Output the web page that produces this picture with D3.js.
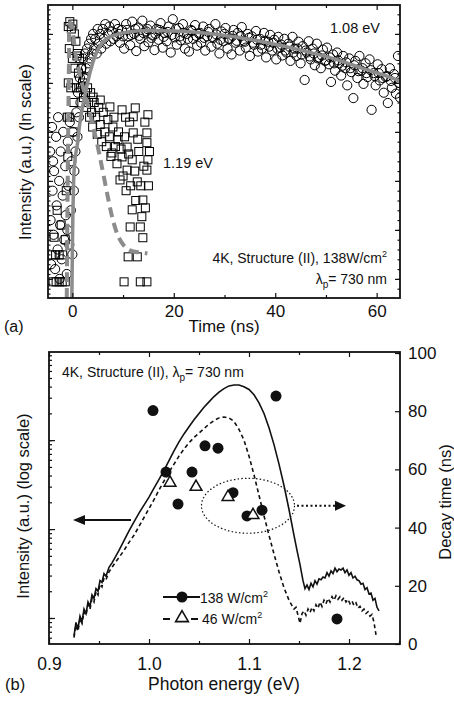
<!DOCTYPE html>
<html>
<head>
<meta charset="utf-8">
<script src="https://cdn.jsdelivr.net/npm/d3@7/dist/d3.min.js"></script>
<style>
  body { margin: 0; background: #fff; }
  text { font-family: "Liberation Sans", Arial, sans-serif; fill: #111; }
</style>
</head>
<body>
<svg id="fig" width="454" height="702"></svg>
<script>
// ---- panel (a): time-resolved PL, ln(intensity) vs time (ns)
const timeTicks = [0, 20, 40, 60];
const timeMinor = [10, 30, 50];

// 1.08 eV data (open circles)  [t, ln I]
const pl108 = [
  [-4.4,2.6],[-4.3,1.2],[-4.2,0.3],[-4.0,3.1],[-3.9,1.8],[-3.7,0.9],[-3.6,2.2],[-3.4,0.2],[-3.2,2.9],[-3.1,1.5],
  [-2.9,0.6],[-2.8,3.3],[-2.6,2.0],[-2.4,1.1],[-2.3,2.6],[-2.1,0.4],[-1.9,1.7],[-1.8,3.0],[-1.6,0.8],[-1.4,2.3],
  [-1.3,1.3],[-1.1,0.1],[-0.9,2.8],[-0.8,1.9],[-0.6,0.7],[-0.5,3.2],[-0.3,1.4],[-0.2,2.4],[0.0,0.5],[0.1,3.0],
  [0.3,1.8],[0.4,2.2],[-3.8,2.4],[-2.5,0.0],[-1.0,1.0],
  [0.6,2.6],[0.8,3.4],[1.0,2.9],[1.1,3.8],[1.3,3.3],[1.5,4.1],[1.6,3.6],[1.8,4.3],[2.0,3.9],[2.1,4.5],
  [2.3,4.1],[2.5,4.6],[2.7,4.3],[2.9,4.7],[3.1,4.4],[3.3,4.8],[3.5,4.5],[3.7,4.9],[3.9,4.6],[4.1,5.0],
  [4.3,4.7],[4.5,4.9],[4.8,4.6],[5.0,5.1],[5.2,4.8],[5.5,5.0],[5.7,4.7],[6.0,5.1],[6.2,4.9],[6.5,5.2],
  [6.7,4.8],[7.0,5.0],[7.3,5.15],[7.5,4.85],[7.8,5.05],[8.1,4.9],[8.4,5.2],[8.7,4.95],
  [9.0,5.1],[9.4,4.82],[9.8,5.08],[10.2,4.7],[10.6,5.2],[11.0,4.95],[11.4,4.77],[11.8,5.25],[12.2,5.0],[12.6,4.65],
  [13.0,5.13],[13.4,4.9],[13.8,5.27],[14.2,4.75],[14.6,5.05],[15.0,4.83],[15.4,5.17],[15.8,4.97],[16.2,4.67],[16.6,5.1],
  [17.0,4.88],[17.4,5.22],[17.8,4.72],[18.2,5.02],[18.6,4.85],[19.0,5.15],[19.4,4.62],[19.8,5.3],[20.2,4.93],[20.6,4.78],
  [21.0,5.12],[21.4,4.87],[21.8,5.2],[22.2,4.7],[22.6,5.0],[23.0,4.64],[23.4,5.08],[23.8,4.9],[24.2,5.18],[24.6,4.76],
  [25.0,5.0],[25.4,4.82],[25.8,5.15],[26.2,4.66],[26.6,4.95],[27.0,5.1],[27.4,4.74],[27.8,4.92],[28.2,5.2],[28.6,4.8],
  [29.0,4.6],[29.4,5.05],[29.8,4.85],[30.2,5.12],[30.6,4.7],[31.0,4.9],[31.4,4.58],[31.8,5.08],[32.2,4.82],[32.6,5.02],
  [33.0,4.66],[33.4,5.14],[33.8,4.86],[34.2,4.72],[34.6,5.0],[35.0,4.55],[35.4,4.95],[35.8,4.78],[36.2,5.06],[36.6,4.64],
  [37.0,4.9],[37.4,4.7],[37.8,5.02],[38.2,4.52],[38.6,4.84],[39.0,4.98],[39.4,4.66],[39.8,4.88],[40.2,4.48],[40.6,4.94],
  [41.0,4.72],[41.4,4.56],[41.8,4.9],[42.2,4.62],[42.6,4.8],[43.0,4.45],[43.4,4.94],[43.8,4.7],[44.2,4.55],[44.6,4.84],
  [45.0,4.4],[45.4,4.75],[45.8,4.06],[46.2,4.62],[46.6,4.85],[47.0,4.48],[47.4,4.7],[47.8,4.36],[48.2,4.8],[48.6,4.52],
  [49.0,4.3],[49.4,4.68],[49.8,4.45],[50.2,4.72],[50.6,4.38],[51.0,4.02],[51.4,4.58],[51.8,4.25],[52.2,4.62],[52.6,4.4],
  [53.0,4.15],[53.4,4.55],[53.8,4.3],[54.2,3.95],[54.6,4.5],[55.0,4.22],[55.4,3.69],[55.8,4.45],[56.2,4.1],[56.6,4.55],
  [57.0,4.25],[57.4,3.98],[57.8,4.4],[58.2,4.12],[58.6,4.48],[59.0,3.45],[59.4,4.2],[59.8,3.95],[60.2,4.38],[60.6,4.05],
  [61.0,4.28],[61.4,3.8],[61.8,4.12],[62.2,3.59],[62.6,4.3],[63.0,3.9],[63.4,4.18],[63.8,3.78],[64.2,4.55],[64.4,4.0],[64.6,3.7],
  [9.2,5.0],[10.0,4.95],[10.8,5.08],[11.6,4.98],[12.4,5.1],[13.2,4.96],[14.0,5.02],[14.8,5.1],[15.6,4.92],[16.4,5.0],
  [17.2,5.08],[18.0,4.94],[18.8,5.04],[19.6,4.98],[20.4,5.1],[21.2,4.95],[22.0,5.02],[22.8,4.9],[23.6,5.06],[24.4,4.96],
  [25.2,5.02],[26.0,4.92],[26.8,5.04],[27.6,4.94],[28.4,4.99],[29.2,4.88],[30.0,5.0],[30.8,4.9],[31.6,4.96],[32.4,4.86],
  [33.2,4.95],[34.0,4.84],[34.8,4.92],[35.6,4.82],[36.4,4.88],[37.2,4.78],[38.0,4.86],[38.8,4.74],[39.6,4.82],[40.4,4.7],
  [41.2,4.78],[42.0,4.66],[42.8,4.74],[43.6,4.62],[44.4,4.7],[45.2,4.58],[46.0,4.66],[46.8,4.54],[47.6,4.6],[48.4,4.5],
  [49.2,4.56],[50.0,4.46],[50.8,4.52],[51.6,4.4],[52.4,4.46],[53.2,4.35],[54.0,4.42],[54.8,4.3],[55.6,4.36],[56.4,4.24],
  [57.2,4.3],[58.0,4.2],[58.8,4.26],[59.6,4.14],[60.4,4.2],[61.2,4.1],[62.0,4.14],[62.8,4.04],[63.6,4.1],[64.4,4.0]
];

// 1.19 eV data (open squares)  [t, ln I]
const pl119 = [
  [-4.0,0.49],[-3.3,0.49],[-2.6,0.49],[-1.9,0.49],[-3.8,-0.06],[-3.2,-0.06],[-2.6,-0.06],[-2.0,-0.06],[-1.4,-0.06],
  [-3.0,1.4],[-1.4,0.8],[-3.6,0.85],[-2.2,1.1],[-1.2,1.8],[-0.9,2.5],[-1.0,3.3],[-0.8,4.0],
  [-0.8,5.15],[-0.5,5.25],[-0.2,5.1],[0.1,5.2],[0.4,5.0],[0.7,4.85],[-0.6,4.7],[0.0,4.5],[0.5,4.3],[0.9,4.55],
  [-0.3,3.9],[0.3,3.6],[0.8,3.9],[-0.6,3.3],[0.2,3.0],
  [1.0,4.6],[1.2,4.2],[1.4,4.5],[1.6,3.9],[1.8,4.3],[2.0,4.0],[2.2,3.7],[2.4,4.1],[2.6,3.8],[2.8,3.5],
  [3.0,3.9],[3.2,3.6],[3.4,3.3],[3.6,3.8],[3.8,3.4],[4.0,3.1],[4.3,3.6],[4.6,3.3],[4.9,2.95],[5.2,3.5],
  [5.5,3.15],[5.8,2.8],[6.1,3.4],[6.4,3.0],[6.7,2.7],[7.0,3.25],[7.3,2.9],[7.6,2.5],[8.2,3.3],[8.5,2.7],
  [8.8,2.35],[9.1,3.0],[9.6,2.65],[10.0,2.1],[10.3,2.9],[10.6,1.8],[11.1,2.55],[11.5,1.9],[12.3,2.2],[12.5,1.6],
  [13.1,2.6],[13.5,1.9],[14.1,2.3],[14.4,1.45],[15.0,1.9],[15.2,2.6],[14.9,3.35],[12.9,2.85],[11.3,3.2],[10.5,3.3],
  [4.1,3.71],[5.5,3.65],[7.4,3.51],[9.8,3.45],[12.4,3.49],[14.3,3.2],[14.7,2.98],[14.7,2.78],[14.9,2.43],[14.7,2.22],
  [12.0,3.31],[12.0,2.98],[10.8,2.69],[11.8,2.43],[10.8,2.22],[12.8,1.98],[13.9,1.61],[11.8,1.41],[13.7,1.27],[11.4,1.06],
  [13.4,1.06],[13.9,0.84],[11.0,0.45],[12.8,0.45],[10.2,-0.06],[13.4,-0.06],[14.7,-0.06],[8.0,3.1],[9.0,2.84],[7.8,2.57],
  [9.8,2.49],[9.4,2.02]
];

// fits (grey)
const fit108 = [
  [-0.1,-0.39],[0.0,0.5],[0.1,1.3],[0.25,2.0],[0.5,2.4],[1.0,2.75],[1.5,3.2],[2.0,3.5],[2.5,3.75],[3.0,4.0],
  [4.0,4.4],[5.0,4.67],[6.5,4.88],[8.5,4.98],[11,5.04],[15,5.07],[20,5.06],[26,5.02],[32,4.94],[38,4.83],
  [45,4.67],[52,4.48],[58,4.27],[62,4.14],[64.6,4.04]
];
const fit119 = [
  [-1.1,-0.39],[-0.95,1.6],[-0.8,3.2],[-0.65,4.5],[-0.45,5.22],[-0.2,5.2],[0.2,4.95],[0.6,4.6],[1.2,4.3],[2.0,3.95],
  [2.9,3.6],[3.9,3.2],[4.8,2.8],[5.9,2.25],[7.1,1.62],[8.0,1.2],[9.0,0.88],[10.0,0.7],[11.0,0.6],[12.0,0.56],
  [13.4,0.54],[14.8,0.52]
];

// ---- panel (b): PL spectra (log10 intensity) and decay times
const energyTicks = [0.9, 1.0, 1.1, 1.2];
const energyMinor = [0.95, 1.05, 1.15, 1.25];
const decayTicks = [0, 20, 40, 60, 80, 100];

// spectrum at 138 W/cm2  [E, log10 I]
const spec138 = [
  [0.925,-0.2],[0.927,-0.05],[0.929,-0.12],[0.931,0.02],[0.933,-0.04],[0.935,0.1],[0.937,0.05],[0.939,0.18],[0.941,0.13],[0.943,0.26],
  [0.945,0.22],[0.947,0.33],[0.949,0.3],[0.951,0.42],[0.953,0.4],[0.955,0.5],[0.957,0.47],[0.960,0.57],[0.963,0.62],[0.966,0.68],
  [0.970,0.76],[0.975,0.87],[0.980,0.98],[0.985,1.08],[0.990,1.18],[0.995,1.27],[1.000,1.36],[1.005,1.46],[1.010,1.56],[1.015,1.66],
  [1.020,1.77],[1.025,1.88],[1.030,1.98],[1.035,2.07],[1.040,2.15],[1.045,2.23],[1.050,2.30],[1.055,2.37],[1.060,2.43],[1.065,2.49],
  [1.070,2.54],[1.075,2.58],[1.080,2.61],[1.085,2.62],[1.090,2.62],[1.095,2.60],[1.100,2.57],[1.105,2.51],[1.110,2.42],[1.115,2.30],
  [1.120,2.14],[1.125,1.95],[1.130,1.73],[1.135,1.49],[1.140,1.22],[1.145,0.93],[1.148,0.76],[1.151,0.6],[1.154,0.42],[1.156,0.33],
  [1.158,0.37],[1.160,0.32],[1.162,0.39],[1.164,0.35],[1.166,0.42],[1.168,0.38],[1.170,0.44],[1.172,0.43],[1.174,0.46],[1.176,0.45],
  [1.178,0.51],[1.180,0.47],[1.182,0.53],[1.184,0.5],[1.186,0.56],[1.188,0.52],[1.190,0.55],[1.192,0.54],[1.194,0.56],[1.196,0.51],
  [1.198,0.54],[1.200,0.48],[1.202,0.51],[1.204,0.45],[1.206,0.47],[1.208,0.43],[1.210,0.42],[1.212,0.38],[1.214,0.39],[1.216,0.32],
  [1.218,0.34],[1.220,0.27],[1.222,0.28],[1.224,0.2],[1.226,0.22],[1.228,0.12],[1.230,0.08]
];
// spectrum at 46 W/cm2
const spec46 = [
  [0.925,-0.22],[0.927,-0.08],[0.929,-0.15],[0.931,0.0],[0.933,-0.06],[0.935,0.07],[0.937,0.03],[0.939,0.15],[0.941,0.1],[0.943,0.22],
  [0.945,0.18],[0.947,0.3],[0.949,0.26],[0.951,0.38],[0.953,0.35],[0.955,0.45],[0.957,0.43],[0.960,0.52],[0.963,0.57],[0.966,0.62],
  [0.970,0.68],[0.975,0.76],[0.980,0.85],[0.985,0.93],[0.990,1.03],[0.995,1.13],[1.000,1.23],[1.005,1.33],[1.010,1.44],[1.015,1.54],
  [1.020,1.64],[1.025,1.73],[1.030,1.82],[1.035,1.90],[1.040,1.97],[1.045,2.03],[1.050,2.08],[1.055,2.13],[1.060,2.18],[1.065,2.22],
  [1.070,2.25],[1.075,2.26],[1.080,2.25],[1.085,2.21],[1.090,2.12],[1.095,2.0],[1.100,1.82],[1.105,1.61],[1.110,1.38],[1.115,1.15],
  [1.120,0.93],[1.125,0.72],[1.130,0.52],[1.135,0.34],[1.140,0.2],[1.143,0.14],[1.145,0.1],[1.147,0.12],[1.149,0.03],[1.151,-0.06],
  [1.153,0.05],[1.155,0.08],[1.157,0.03],[1.159,0.1],[1.161,0.06],[1.163,0.12],[1.165,0.08],[1.167,0.15],[1.169,0.11],[1.171,0.18],
  [1.173,0.13],[1.175,0.2],[1.177,0.16],[1.179,0.22],[1.181,0.18],[1.183,0.24],[1.185,0.2],[1.187,0.25],[1.189,0.21],[1.191,0.24],
  [1.193,0.2],[1.195,0.23],[1.197,0.18],[1.199,0.21],[1.201,0.16],[1.203,0.19],[1.205,0.14],[1.207,0.17],[1.209,0.11],[1.211,0.13],
  [1.213,0.08],[1.215,0.1],[1.217,0.05],[1.219,0.07],[1.221,0.02],[1.223,0.04],[1.225,-0.05],[1.227,-0.19]
];

// decay times (ns)
const decay138 = [
  [1.004,80.2],[1.017,59.1],[1.029,48.1],[1.043,59.1],[1.056,68.1],[1.069,67.3],
  [1.084,52.0],[1.098,44.0],[1.113,46.0],[1.127,85.2],[1.188,8.6]
];
const decay46 = [[1.021,55.4],[1.047,54.0],[1.079,50.5],[1.104,44.3]];

function body() {
  const svg = d3.select('#fig');

  // ================= panel (a)
  const xA = d3.scaleLinear().domain([-4.8, 64.6]).range([48, 400]);
  const yA = d3.scaleLinear().domain([-0.39, 5.59]).range([298, 5]);

  svg.append('defs').call(sel => {
    sel.append('clipPath').attr('id', 'clipA')
      .append('rect').attr('x', 48).attr('y', 5).attr('width', 352).attr('height', 293);
    sel.append('clipPath').attr('id', 'clipB')
      .append('rect').attr('x', 49).attr('y', 352).attr('width', 351).attr('height', 292);
  });

  const gA = svg.append('g').attr('class', 'panel-a');

  gA.append('g').attr('clip-path', 'url(#clipA)').call(sel => {

    sel.selectAll('.c108').data(pl108)
      .join('circle').attr('class', 'c108')
        .attr('cx', d => xA(d[0]))
        .attr('cy', d => yA(d[1]))
        .attr('r', 4.6)
        .attr('fill', 'none')
        .attr('stroke', '#000')
        .attr('stroke-width', 1);

    sel.selectAll('.s119').data(pl119)
      .join('rect').attr('class', 's119')
        .attr('x', d => xA(d[0]) - 4)
        .attr('y', d => yA(d[1]) - 4)
        .attr('width', 8)
        .attr('height', 8)
        .attr('fill', 'none')
        .attr('stroke', '#000')
        .attr('stroke-width', 1);

    const lineA = d3.line().x(d => xA(d[0])).y(d => yA(d[1])).curve(d3.curveMonotoneX);

    sel.append('path').datum(fit119)
      .attr('d', d3.line().x(d => xA(d[0])).y(d => yA(d[1])).curve(d3.curveCatmullRom))
      .attr('fill', 'none')
      .attr('stroke', '#8c8c8c')
      .attr('stroke-width', 4)
      .attr('stroke-dasharray', '10,6');

    sel.append('path').datum(fit108)
      .attr('d', lineA)
      .attr('fill', 'none')
      .attr('stroke', '#8c8c8c')
      .attr('stroke-width', 3.5);
  });

  // axes (a)
  const yMajA = d3.range(0, 6, 1);
  const yMinA = d3.range(-0.3, 5.6, 0.1);
  gA.append('g').attr('transform', 'translate(0,298)')
    .call(d3.axisBottom(xA).tickValues(timeTicks).tickSize(-5).tickPadding(7).tickFormat(d3.format('d')))
    .call(g => g.selectAll('text').style('font-size', '17px'));
  gA.append('g').attr('transform', 'translate(0,298)')
    .call(d3.axisBottom(xA).tickValues(timeMinor).tickSize(-3).tickFormat(''));
  gA.append('g').attr('transform', 'translate(0,5)')
    .call(d3.axisTop(xA).tickValues(timeTicks).tickSize(-5).tickFormat(''));
  gA.append('g').attr('transform', 'translate(0,5)')
    .call(d3.axisTop(xA).tickValues(timeMinor).tickSize(-3).tickFormat(''));
  gA.append('g').attr('transform', 'translate(48,0)')
    .call(d3.axisLeft(yA).tickValues(yMajA).tickSize(-5).tickFormat(''));
  gA.append('g').attr('transform', 'translate(48,0)')
    .call(d3.axisLeft(yA).tickValues(yMinA).tickSize(-2.5).tickFormat(''));
  gA.append('g').attr('transform', 'translate(400,0)')
    .call(d3.axisRight(yA).tickValues(yMajA).tickSize(-5).tickFormat(''));
  gA.append('g').attr('transform', 'translate(400,0)')
    .call(d3.axisRight(yA).tickValues(yMinA.filter((d, i) => i % 2 === 1)).tickSize(-2.5).tickFormat(''));

  gA.selectAll('.domain').remove();
  gA.selectAll('.tick line').attr('stroke', '#111').attr('stroke-width', 1.2);

  gA.append('rect')
    .attr('x', 48).attr('y', 5).attr('width', 352).attr('height', 293)
    .attr('fill', 'none').attr('stroke', '#111').attr('stroke-width', 1.8);

  gA.append('text').attr('x', 380).attr('y', 33).attr('text-anchor', 'end')
    .style('font-size', '14.5px').text('1.08 eV');
  gA.append('text').attr('x', 163).attr('y', 168)
    .style('font-size', '14.5px').text('1.19 eV');
  gA.append('text').attr('x', 387).attr('y', 263).attr('text-anchor', 'end')
    .style('font-size', '14px')
    .call(t => {
      t.append('tspan').text('4K, Structure (II), 138W/cm');
      t.append('tspan').attr('dy', -6).style('font-size', '9px').text('2');
    });
  gA.append('text').attr('x', 387).attr('y', 284).attr('text-anchor', 'end')
    .style('font-size', '14px')
    .call(t => {
      t.append('tspan').text('λ');
      t.append('tspan').attr('dy', 4).style('font-size', '10px').text('p');
      t.append('tspan').attr('dy', -4).text('= 730 nm');
    });

  gA.append('text')
    .attr('transform', 'translate(31,152) rotate(-90)')
    .attr('text-anchor', 'middle')
    .style('font-size', '16.5px')
    .text('Intensity (a.u.) (ln scale)');
  gA.append('text').attr('x', 224).attr('y', 332).attr('text-anchor', 'middle')
    .style('font-size', '17px').text('Time (ns)');
  gA.append('text').attr('x', 4).attr('y', 332)
    .style('font-size', '16px').text('(a)');

  // ================= panel (b)
  const xB = d3.scaleLinear().domain([0.9, 1.251]).range([49, 400]);
  const yB = d3.scaleLog().domain([0.51, 980]).range([644, 352]);
  const yR = d3.scaleLinear().domain([0, 100]).range([644, 353]);

  const gB = svg.append('g').attr('class', 'panel-b');

  gB.append('g').attr('clip-path', 'url(#clipB)').call(sel => {
    const lineB = d3.line().x(d => xB(d[0])).y(d => yB(Math.pow(10, d[1])));

    sel.append('path').datum(spec46)
      .attr('d', lineB)
      .attr('fill', 'none')
      .attr('stroke', '#111')
      .attr('stroke-width', 1.6)
      .attr('stroke-dasharray', '4,3');

    sel.append('path').datum(spec138)
      .attr('d', lineB)
      .attr('fill', 'none')
      .attr('stroke', '#111')
      .attr('stroke-width', 1.6);

    sel.selectAll('.d138').data(decay138)
      .join('circle').attr('class', 'd138')
        .attr('cx', d => xB(d[0]))
        .attr('cy', d => yR(d[1]))
        .attr('r', 5.5)
        .attr('fill', '#111');

    sel.selectAll('.d46').data(decay46)
      .join('path').attr('class', 'd46')
        .attr('transform', d => `translate(${xB(d[0])},${yR(d[1])})`)
        .attr('d', d3.symbol(d3.symbolTriangle, 60))
        .attr('fill', '#fff')
        .attr('stroke', '#111')
        .attr('stroke-width', 1.5);
  });

  // axes (b)
  gB.append('g').attr('transform', 'translate(0,644)')
    .call(d3.axisBottom(xB).tickValues(energyTicks).tickSize(-5).tickPadding(14).tickFormat(d3.format('.1f')))
    .call(g => g.selectAll('text').style('font-size', '17.5px'));
  gB.append('g').attr('transform', 'translate(0,644)')
    .call(d3.axisBottom(xB).tickValues(energyMinor).tickSize(-3).tickFormat(''));
  gB.append('g').attr('transform', 'translate(0,352)')
    .call(d3.axisTop(xB).tickValues(energyTicks).tickSize(-5).tickFormat(''));
  gB.append('g').attr('transform', 'translate(0,352)')
    .call(d3.axisTop(xB).tickValues(energyMinor).tickSize(-3).tickFormat(''));
  gB.append('g').attr('transform', 'translate(49,0)')
    .call(d3.axisLeft(yB).tickValues([1, 10, 100]).tickSize(-6).tickFormat(''));
  gB.append('g').attr('transform', 'translate(49,0)')
    .call(d3.axisLeft(yB).tickValues(yB.ticks()).tickSize(-3).tickFormat(''));
  gB.append('g').attr('transform', 'translate(400,0)')
    .call(d3.axisRight(yR).tickValues(decayTicks).tickSize(-5).tickPadding(8))
    .call(g => g.selectAll('text').style('font-size', '17px'));

  gB.selectAll('.domain').remove();
  gB.selectAll('.tick line').attr('stroke', '#111').attr('stroke-width', 1.2);

  gB.append('rect')
    .attr('x', 49).attr('y', 352).attr('width', 351).attr('height', 292)
    .attr('fill', 'none').attr('stroke', '#111').attr('stroke-width', 1.8);

  gB.append('text').attr('x', 62).attr('y', 377)
    .style('font-size', '14px')
    .call(t => {
      t.append('tspan').text('4K, Structure (II), λ');
      t.append('tspan').attr('dy', 4).style('font-size', '10px').text('p');
      t.append('tspan').attr('dy', -4).text('= 730 nm');
    });

  // ellipse around decay-time points with dotted arrow to right axis
  gB.append('ellipse')
    .attr('cx', xB(1.099)).attr('cy', yR(47.5))
    .attr('rx', 46.5).attr('ry', 27.5)
    .attr('fill', 'none').attr('stroke', '#111')
    .attr('stroke-width', 1.2).attr('stroke-dasharray', '1.5,2.2');
  gB.append('line')
    .attr('x1', 297).attr('x2', 336).attr('y1', yR(47.5)).attr('y2', yR(47.5))
    .attr('stroke', '#111').attr('stroke-width', 2).attr('stroke-dasharray', '2,2.5');
  gB.append('path')
    .attr('d', `M335,${yR(47.5) - 5}L346,${yR(47.5)}L335,${yR(47.5) + 5}Z`)
    .attr('fill', '#111');

  // solid arrow to the left axis
  gB.append('line')
    .attr('x1', 131).attr('x2', 82).attr('y1', 520).attr('y2', 520)
    .attr('stroke', '#111').attr('stroke-width', 2.2);
  gB.append('path')
    .attr('d', 'M73,520L85,515L85,525Z')
    .attr('fill', '#111');

  // legend
  gB.append('g').attr('class', 'legend').call(sel => {
    sel.append('line').attr('x1', 163).attr('x2', 200).attr('y1', 597).attr('y2', 597)
      .attr('stroke', '#111').attr('stroke-width', 1.8);
    sel.append('circle').attr('cx', 182).attr('cy', 597).attr('r', 5.5).attr('fill', '#111');
    sel.append('text').attr('x', 200).attr('y', 603).style('font-size', '14px')
      .call(t => {
        t.append('tspan').text('138 W/cm');
        t.append('tspan').attr('dy', -6).style('font-size', '9px').text('2');
      });

    sel.append('line').attr('x1', 163).attr('x2', 198).attr('y1', 619).attr('y2', 619)
      .attr('stroke', '#111').attr('stroke-width', 1.8).attr('stroke-dasharray', '7,21');
    sel.append('path').attr('transform', 'translate(182,618)')
      .attr('d', d3.symbol(d3.symbolTriangle, 70))
      .attr('fill', '#fff').attr('stroke', '#111').attr('stroke-width', 1.6);
    sel.append('text').attr('x', 202).attr('y', 624).style('font-size', '14px')
      .call(t => {
        t.append('tspan').text('46 W/cm');
        t.append('tspan').attr('dy', -6).style('font-size', '9px').text('2');
      });
  });

  gB.append('text')
    .attr('transform', 'translate(29,506) rotate(-90)')
    .attr('text-anchor', 'middle')
    .style('font-size', '16.5px')
    .text('Intensity (a.u.) (log scale)');
  gB.append('text')
    .attr('transform', 'translate(451,502) rotate(-90)')
    .attr('text-anchor', 'middle')
    .style('font-size', '16.5px')
    .text('Decay time (ns)');
  gB.append('text').attr('x', 224).attr('y', 690).attr('text-anchor', 'middle')
    .style('font-size', '17.5px').text('Photon energy (eV)');
  gB.append('text').attr('x', 5).attr('y', 690)
    .style('font-size', '16.5px').text('(b)');
}

body();
</script>
</body>
</html>
